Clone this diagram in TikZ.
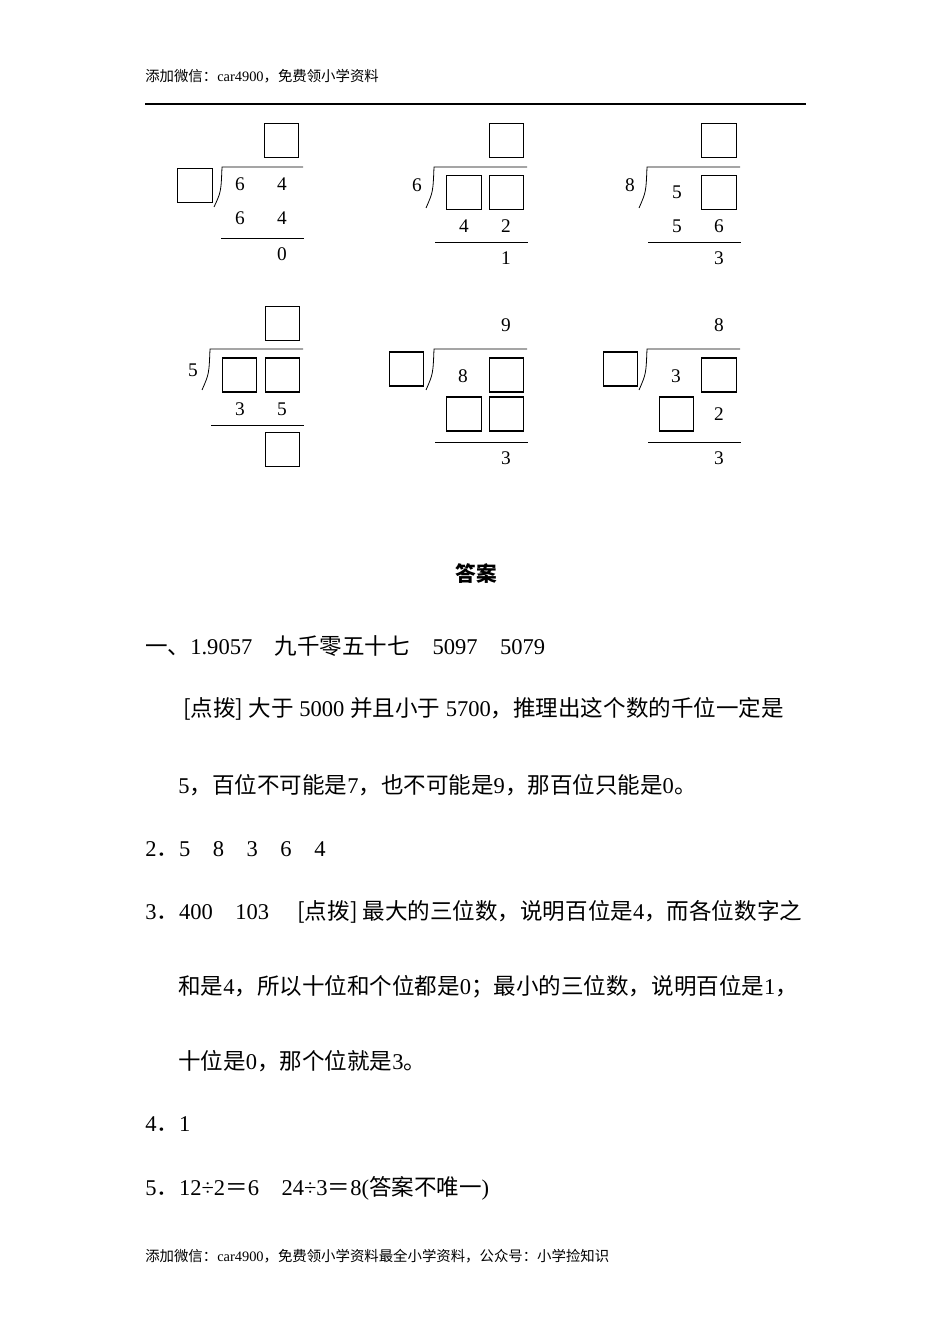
\documentclass[tikz,border=0pt]{standalone}
\usepackage{fontspec}
\setmainfont{Liberation Serif}
\newfontfamily\cjk{Noto Sans CJK SC}
\newcommand{\zh}[1]{{\cjk #1}}
\begin{document}
\begin{tikzpicture}[x=0.75pt,y=-0.75pt,
  bx/.style={draw,line width=0.8pt,minimum width=26pt,minimum height=25.5pt,inner sep=0pt},
  dg/.style={font=\fontsize{14.5}{16}\selectfont,inner sep=0pt},
  tx/.style={anchor=west,inner sep=0pt,font=\fontsize{16.9}{19}\selectfont},
  hd/.style={anchor=west,inner sep=0pt,font=\fontsize{10.8}{12}\selectfont},
  ln/.style={line width=0.6pt}]
\useasboundingbox (0,0) rectangle (950,1344);
\node[hd] (h) at (145,76) {\zh{添加微信：}car4900\zh{，免费领小学资料}};
\draw[line width=0.8pt] (145,104) -- (806,104);
% ---- problem 1
\node[bx] (p1q) at (281.5,140.5) {};
\node[bx] (p1d) at (195,185.5) {};
\draw[ln] (303,167) -- (222,167) .. controls (221,192) .. (214,207);
\node[dg] at (240,184) {6}; \node[dg] at (282,184) {4};
\node[dg] at (240,218) {6}; \node[dg] at (282,218) {4};
\draw[ln] (221,238) -- (304,238);
\node[dg] at (282,254) {0};
% ---- problem 2
\node[bx] (p2q) at (506.5,140.5) {};
\node[dg] at (417,185) {6};
\draw[ln] (527,167) -- (434,167) .. controls (433,192) .. (426,208);
\node[bx] (p2a) at (464,192.5) {}; \node[bx] (p2b) at (506.5,192.5) {};
\node[dg] at (464,226) {4}; \node[dg] at (506,226) {2};
\draw[ln] (435,242) -- (528,242);
\node[dg] at (506,258) {1};
% ---- problem 3
\node[bx] (p3q) at (719,140.5) {};
\node[dg] at (630,185) {8};
\draw[ln] (740,167) -- (647,167) .. controls (646,192) .. (639,208);
\node[dg] at (677,192) {5}; \node[bx] (p3a) at (719,192.5) {};
\node[dg] at (677,226) {5}; \node[dg] at (719,226) {6};
\draw[ln] (648,242) -- (741,242);
\node[dg] at (719,258) {3};
% ---- problem 4
\node[bx] (p4q) at (282.5,323.5) {};
\node[dg] at (193,370) {5};
\draw[ln] (303,349) -- (210,349) .. controls (209,374) .. (202,390);
\node[bx] (p4a) at (239.5,375) {}; \node[bx] (p4b) at (282.5,375) {};
\node[dg] at (240,409) {3}; \node[dg] at (282,409) {5};
\draw[ln] (211,425) -- (304,425);
\node[bx] (p4r) at (282.5,449.5) {};
% ---- problem 5
\node[dg] at (506,325) {9};
\node[bx] (p5d) at (406.5,369) {};
\draw[ln] (527,349) -- (434,349) .. controls (433,374) .. (426,390);
\node[dg] at (463,376) {8}; \node[bx] (p5a) at (506.5,375) {};
\node[bx] (p5b) at (464,414) {}; \node[bx] (p5c) at (506.5,414) {};
\draw[ln] (435,442) -- (528,442);
\node[dg] at (506,458) {3};
% ---- problem 6
\node[dg] at (719,325) {8};
\node[bx] (p6d) at (620.5,369) {};
\draw[ln] (740,349) -- (647,349) .. controls (646,374) .. (639,390);
\node[dg] at (676,376) {3}; \node[bx] (p6a) at (719,375) {};
\node[bx] (p6b) at (676.5,414) {}; \node[dg] at (719,414) {2};
\draw[ln] (648,442) -- (741,442);
\node[dg] at (719,458) {3};
% ---- answers
\node[inner sep=0pt,font=\fontsize{15.5}{18}\selectfont] (ans) at (476,574) {\zh{\bfseries 答案}};
\node[tx] (l1) at (145,646) {\zh{一、}1.9057\quad\zh{九千零五十七}\quad 5097\quad 5079};
\node[tx] (l2) at (183,709) {\zh{[点拨] 大于} 5000 \zh{并且小于} 5700\zh{，推理出这个数的千位一定是}};
\node[tx] (l3) at (178,785) {5\zh{，百位不可能是}7\zh{，也不可能是}9\zh{，那百位只能是}0\zh{。}};
\node[tx] (l4) at (145,849) {2\zh{．}5\quad 8\quad 3\quad 6\quad 4};
\node[tx] (l5) at (145,912) {3\zh{．}400\quad 103\quad\ \zh{[点拨] 最大的三位数，说明百位是}4\zh{，而各位数字之}};
\node[tx] (l6) at (178,987) {\zh{和是}4\zh{，所以十位和个位都是}0\zh{；最小的三位数，说明百位是}1\zh{，}};
\node[tx] (l7) at (178,1061) {\zh{十位是}0\zh{，那个位就是}3\zh{。}};
\node[tx] (l8) at (145,1124) {4\zh{．}1};
\node[tx] (l9) at (145,1188) {5\zh{．}12÷2\zh{＝}6\quad 24÷3\zh{＝}8(\zh{答案不唯一})};
\node[hd] (f) at (145,1256) {\zh{添加微信：}car4900\zh{，免费领小学资料最全小学资料，公众号：小学捡知识}};
\end{tikzpicture}
\end{document}
